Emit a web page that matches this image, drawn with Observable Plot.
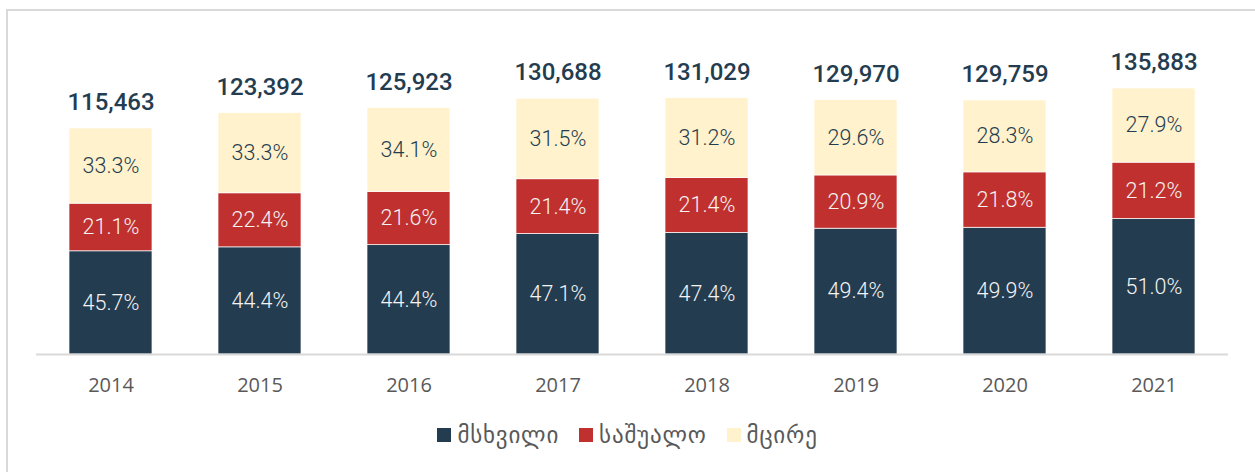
<!DOCTYPE html>
<html>
<head>
<meta charset="utf-8">
<script src="https://cdn.jsdelivr.net/npm/d3@7"></script>
<script src="https://cdn.jsdelivr.net/npm/@observablehq/plot@0.6"></script>
<style>
  html, body { margin: 0; padding: 0; background: #fff; }
  #wrap { position: relative; width: 1255px; height: 472px; overflow: hidden; }
  #frame { position: absolute; left: 6px; top: 9px; width: 1300px; height: 520px; border: 2.5px solid #d9d9d9; box-sizing: border-box; }
  #chart { position: absolute; left: 0; top: 0; }
  #legend { position: absolute; left: 0; top: 422px; width: 1255px; display: flex; justify-content: center; align-items: center; font-family: "DejaVu Sans", sans-serif; font-size: 23px; letter-spacing: 0.8px; color: #595959; }
  .item { display: flex; align-items: center; margin: 0 10px; }
  .sw { width: 14px; height: 14px; margin-right: 6px; }
</style>
</head>
<body>
<div id="wrap">
  <div id="frame"></div>
  <div id="chart"></div>
  <div id="legend"></div>
</div>
<script>
const years = ["2014", "2015", "2016", "2017", "2018", "2019", "2020", "2021"];
const totals = [115463, 123392, 125923, 130688, 131029, 129970, 129759, 135883];
const largeShare = [45.7, 44.4, 44.4, 47.1, 47.4, 49.4, 49.9, 51.0];
const mediumShare = [21.1, 22.4, 21.6, 21.4, 21.4, 20.9, 21.8, 21.2];
const smallShare = [33.3, 33.3, 34.1, 31.5, 31.2, 29.6, 28.3, 27.9];
const sizes = ["მსხვილი", "საშუალო", "მცირე"];
const colors = ["#243c4f", "#c0302e", "#fff2cc"];

const shares = [largeShare, mediumShare, smallShare];
const rows = [];
years.forEach((year, i) => {
  const sum = largeShare[i] + mediumShare[i] + smallShare[i];
  let base = 0;
  sizes.forEach((size, s) => {
    const value = totals[i] * shares[s][i] / sum;
    rows.push({year, size, pct: shares[s][i], value, mid: base + value / 2});
    base += value;
  });
});
const totalRows = years.map((year, i) => ({year, total: totals[i]}));

const narrow = "Roboto, 'DejaVu Sans Condensed', sans-serif";
const fmt = d3.format(",");
const pctText = d => d.pct.toFixed(1) + "%";

const plot = Plot.plot({
  width: 1255,
  height: 410,
  marginLeft: 36,
  marginRight: 27,
  marginTop: 88,
  marginBottom: 56,
  style: {background: "transparent", overflow: "visible"},
  x: {domain: years, paddingInner: 0.443, paddingOuter: 0.2215, label: null},
  y: {domain: [0, 135883], axis: null},
  color: {domain: sizes, range: colors},
  marks: [
    Plot.barY(rows, {x: "year", y: "value", fill: "size", stroke: "white", strokeWidth: 0.7}),
    Plot.text(rows.filter(d => d.size !== sizes[2]), {x: "year", y: "mid", text: pctText,
      fill: "#f4f4f4", fontSize: 21.5, fontWeight: 300, fontFamily: narrow}),
    Plot.text(rows.filter(d => d.size === sizes[2]), {x: "year", y: "mid", text: pctText,
      fill: "#243c4f", fontSize: 21.5, fontWeight: 300, fontFamily: narrow}),
    Plot.text(totalRows, {x: "year", y: "total", text: d => fmt(d.total),
      dy: -26, fill: "#243c4f", fontSize: 24, fontWeight: 500, fontFamily: narrow}),
    Plot.ruleY([0], {stroke: "#d9d9d9", strokeWidth: 2}),
    Plot.axisX({tickSize: 0, tickPadding: 23, fontSize: 20, fontFamily: "'Open Sans', Lato, sans-serif", color: "#595959", label: null})
  ]
});
document.getElementById("chart").appendChild(plot);

const legend = document.getElementById("legend");
sizes.forEach((s, i) => {
  const item = document.createElement("div");
  item.className = "item";
  const sw = document.createElement("div");
  sw.className = "sw";
  sw.style.background = colors[i];
  const t = document.createElement("span");
  t.textContent = s;
  item.appendChild(sw);
  item.appendChild(t);
  legend.appendChild(item);
});
</script>
</body>
</html>
